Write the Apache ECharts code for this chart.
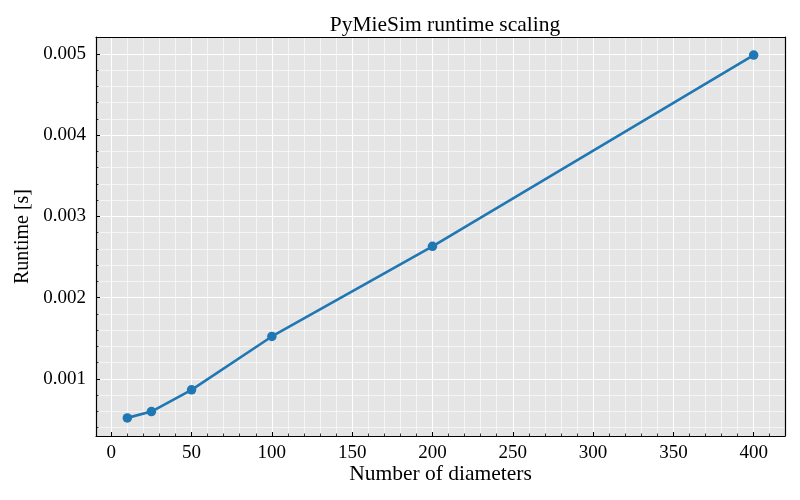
<!DOCTYPE html>
<html>
<head>
<meta charset="utf-8">
<script src="https://cdn.jsdelivr.net/npm/echarts@6/dist/echarts.min.js"></script>
<style>html,body{margin:0;padding:0;background:#fff;}#c{width:800px;height:500px;}</style>
</head>
<body>
<div id="c"></div>
<script>
const diameters = [10, 25, 50, 100, 200, 400];
const runtimes = [0.000519, 0.000597, 0.000864, 0.001521, 0.002630, 0.004984];
const xTicks = [0, 50, 100, 150, 200, 250, 300, 350, 400];
const yTicks = [0.001, 0.002, 0.003, 0.004, 0.005];

const FONT = 'Liberation Serif';
const chart = echarts.init(document.getElementById('c'), null, {renderer: 'canvas'});
const pts = diameters.map((d, i) => [d, runtimes[i]]);

function isTick(list, v) { return list.some(t => Math.abs(t - v) < 1e-9); }

chart.setOption({
  animation: false,
  backgroundColor: '#ffffff',
  title: {
    text: 'PyMieSim runtime scaling',
    left: 440, top: 9, textAlign: 'center',
    textStyle: {fontFamily: FONT, fontSize: 21.5, fontWeight: 'normal', color: '#000'}
  },
  grid: {left: 96, right: 15, top: 37, bottom: 64, show: true, backgroundColor: '#e5e5e5', borderWidth: 0, containLabel: false},
  xAxis: [{
    type: 'value', min: -9.5, max: 419.5, minInterval: 50, maxInterval: 50,
    name: 'Number of diameters', nameLocation: 'middle', nameGap: 27, nameMoveOverlap: false,
    nameTextStyle: {fontFamily: FONT, fontSize: 21.5, color: '#000'},
    axisLine: {show: true, onZero: false, lineStyle: {color: '#000', width: 1.2}},
    axisTick: {show: true, inside: true, length: 4, lineStyle: {color: '#000', width: 1}},
    minorTick: {show: true, splitNumber: 5, length: 2.5, lineStyle: {color: '#000', width: 0.8}},
    axisLabel: {margin: 8, fontFamily: FONT, fontSize: 19, color: '#000',
      formatter: v => isTick(xTicks, v) ? String(v) : ''},
    splitLine: {show: true, showMinLine: false, showMaxLine: false, lineStyle: {color: '#ffffff', width: 1}},
    minorSplitLine: {show: true, lineStyle: {color: 'rgba(255,255,255,0.75)', width: 0.8}}
  }, {
    type: 'value', position: 'top', min: -9.5, max: 419.5, z: 10,
    axisLine: {show: true, onZero: false, lineStyle: {color: '#000', width: 1.2}},
    axisTick: {show: false}, axisLabel: {show: false}, splitLine: {show: false}
  }],
  yAxis: [{
    type: 'value', min: 0.000296, max: 0.005207, minInterval: 0.001, maxInterval: 0.001,
    name: 'Runtime [s]', nameLocation: 'middle', nameGap: 60,
    nameTextStyle: {fontFamily: FONT, fontSize: 20, color: '#000'},
    axisLine: {show: true, onZero: false, lineStyle: {color: '#000', width: 1.2}},
    axisTick: {show: true, inside: true, length: 4, lineStyle: {color: '#000', width: 1}},
    minorTick: {show: true, splitNumber: 5, length: 2.5, lineStyle: {color: '#000', width: 0.8}},
    axisLabel: {margin: 10, fontFamily: FONT, fontSize: 19, color: '#000',
      formatter: v => isTick(yTicks, v) ? v.toFixed(3) : ''},
    splitLine: {show: true, showMinLine: false, showMaxLine: false, lineStyle: {color: '#ffffff', width: 1}},
    minorSplitLine: {show: true, lineStyle: {color: 'rgba(255,255,255,0.75)', width: 0.8}}
  }, {
    type: 'value', position: 'right', min: 0.000296, max: 0.005207, z: 10,
    axisLine: {show: true, onZero: false, lineStyle: {color: '#000', width: 1.2}},
    axisTick: {show: false}, axisLabel: {show: false}, splitLine: {show: false}
  }],
  series: [{
    type: 'line', data: pts, xAxisIndex: 0, yAxisIndex: 0,
    symbol: 'circle', symbolSize: 9.5, showSymbol: true,
    lineStyle: {color: '#1f77b4', width: 2.6},
    itemStyle: {color: '#1f77b4'},
    z: 5
  }]
});
</script>
</body>
</html>
